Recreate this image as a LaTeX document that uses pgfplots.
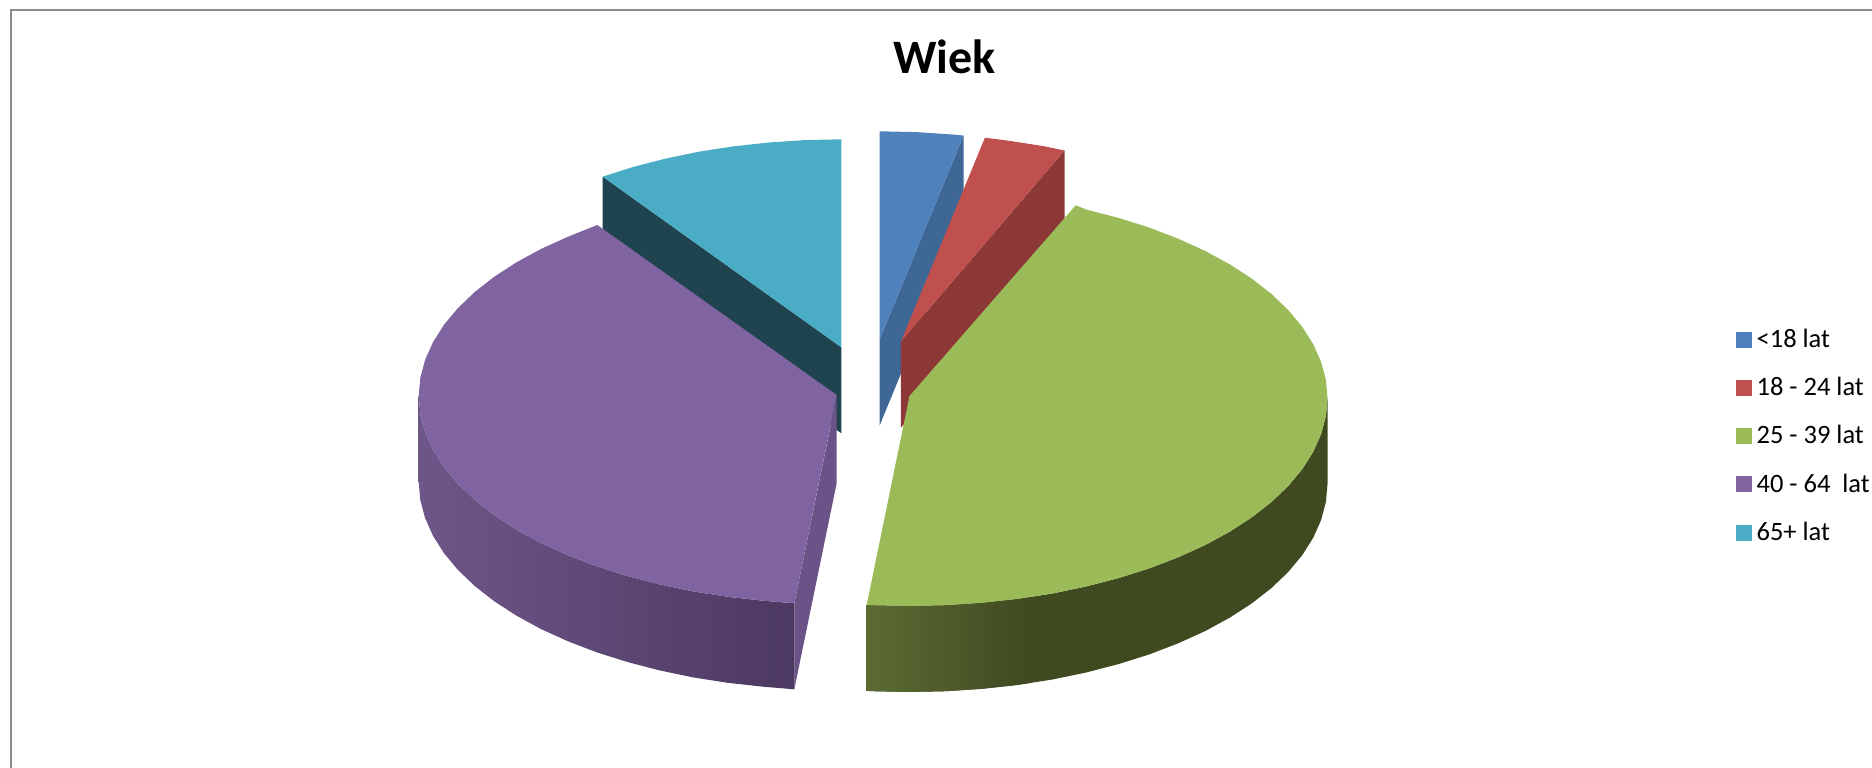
\documentclass[border=0pt]{standalone}
\usepackage{fontspec}
\setmainfont{Carlito}
\usepackage{pgfplots}
\pgfplotsset{compat=1.18}

\definecolor{cblue}{HTML}{4F81BD}
\definecolor{cblueside}{HTML}{3E6796}
\definecolor{cred}{HTML}{C0504D}
\definecolor{credside}{HTML}{8C3836}
\definecolor{cgreen}{HTML}{9BBB59}
\definecolor{cgreenleft}{HTML}{5C6B33}
\definecolor{cgreenside}{HTML}{3F4A21}
\definecolor{cpurple}{HTML}{8064A2}
\definecolor{cpurpleinner}{HTML}{6B5287}
\definecolor{cpurpleleft}{HTML}{6F5689}
\definecolor{cpurplemid}{HTML}{624B78}
\definecolor{cpurpleright}{HTML}{4C3960}
\definecolor{cteal}{HTML}{4BACC6}
\definecolor{ctealside}{HTML}{1F444F}
\definecolor{frame}{HTML}{8A8A8A}

\begin{document}
\begin{tikzpicture}
\begin{axis}[
  width=1872pt,height=768pt,scale only axis,
  xmin=0,xmax=1872,ymin=0,ymax=768,y dir=reverse,
  axis lines=none,ticks=none,
  title={\fontsize{48}{52}\selectfont\bfseries Wiek},
  title style={at={(axis cs:944.5,80)},anchor=base,inner sep=0pt},
  legend style={at={(axis cs:1736,329)},anchor=north west,draw=none,fill=none,overlay,
    inner sep=0pt,font=\fontsize{26.5}{29}\selectfont,row sep=24.3pt,
    nodes={text height=18pt,text depth=6pt,inner sep=0pt,inner xsep=5pt}},
  legend cell align=left,
  legend image code/.code={\fill[#1] (0pt,-5.5pt) rectangle (15pt,9.5pt);},
]
\path (axis cs:0,0) rectangle (axis cs:1872,768);

% chart frame, top and left only
\addplot[forget plot,draw=frame,line width=2pt] coordinates {(10.5,768) (10.5,10.5) (1872,10.5)};

% 65+ lat
\addplot[forget plot,draw=none,fill=ctealside] coordinates {(602.7,176.7) (841.3,347.3) (841.3,433.3) (602.7,262.7)};
\addplot[forget plot,draw=none,fill=cteal] coordinates {
(841.3,347.3) (841.3,139.3) (804.9,140.1) (768.7,142.5) (733.1,146.4)
(698.3,151.8) (664.7,158.8) (632.3,167.2) (602.7,176.7)};

% <18 lat
\addplot[forget plot,draw=none,fill=cblueside] coordinates {(963.5,135.5) (879.7,339.3) (879.7,425.3) (963.5,221.5)};
\addplot[forget plot,draw=none,fill=cblue] coordinates {
(879.7,339.3) (879.7,131.3) (916.1,132.1) (952.3,134.5) (963.5,135.5)};

% 18 - 24 lat
\addplot[forget plot,draw=none,fill=credside] coordinates {(1064.5,150.5) (900.9,341.7) (900.9,427.7) (1064.5,236.5)};
\addplot[forget plot,draw=none,fill=cred] coordinates {
(900.9,341.7) (984.9,137.7) (1009.1,140.8) (1043.9,146.2) (1064.5,150.5)};

% 40 - 64 lat
\addplot[forget plot,draw=none,fill=cpurpleinner] coordinates {(836.7,396) (836.7,483) (794.3,689.3) (794.3,603.3)};
\addplot[forget plot,draw=none,left color=cpurpleleft,middle color=cpurplemid,right color=cpurpleright] coordinates {
(418.7,396) (420.3,414.1) (425.1,432.1) (433,449.8) (443.9,467.1) (457.9,483.9)
(474.7,500) (494.3,515.3) (516.5,529.7) (541.1,543.1) (568,555.3) (596.9,566.4)
(627.7,576.1) (660.1,584.5) (693.7,591.5) (728.5,596.9) (764.1,600.8) (794.3,603.3)
(794.3,689.3) (764.1,686.8) (728.5,682.9) (693.7,677.5) (660.1,670.5) (627.7,662.1)
(596.9,652.4) (568,641.3) (541.1,629.1) (516.5,615.7) (494.3,601.3) (474.7,586)
(457.9,569.9) (443.9,553.1) (433,535.8) (425.1,518.1) (420.3,500.1) (418.7,482)};
\addplot[forget plot,draw=none,fill=cpurple] coordinates {
(836.7,395) (597.3,225) (568,236.7) (541.1,248.9) (516.5,262.3) (494.3,276.7)
(474.7,292) (457.9,308.1) (443.9,324.9) (433,342.2) (425.1,359.9) (420.3,377.9)
(418.7,396) (420.3,414.1) (425.1,432.1) (433,449.8) (443.9,467.1) (457.9,483.9)
(474.7,500) (494.3,515.3) (516.5,529.7) (541.1,543.1) (568,555.3) (596.9,566.4)
(627.7,576.1) (660.1,584.5) (693.7,591.5) (728.5,596.9) (764.1,600.8) (794.3,603.3)};

% 25 - 39 lat
\addplot[forget plot,draw=none,fill=cgreenside] coordinates {
(1327.5,398) (1325.9,416.1) (1321.1,434.1) (1313.2,451.8) (1302.3,469.1) (1288.3,485.9)
(1271.5,502) (1251.9,517.3) (1229.7,531.7) (1205.1,545.1) (1178.2,557.3) (1149.3,568.4)
(1118.5,578.1) (1086.1,586.5) (1052.5,593.5) (1017.7,598.9) (982.1,602.8) (945.9,605.2)
(909.5,606) (873.1,605.2) (866.7,604.9)
(866.7,690.9) (873.1,691.2) (909.5,692) (945.9,691.2) (982.1,688.8) (1017.7,684.9)
(1052.5,679.5) (1086.1,672.5) (1118.5,664.1) (1149.3,654.4) (1178.2,643.3) (1205.1,631.1)
(1229.7,617.7) (1251.9,603.3) (1271.5,588) (1288.3,571.9) (1302.3,555.1) (1313.2,537.8)
(1321.1,520.1) (1325.9,502.1) (1327.5,484)};
\addplot[forget plot,draw=none,left color=cgreenleft,right color=cgreenside] coordinates {
(866.7,604.9) (873.1,605.2) (909.5,606) (945.9,605.2) (982.1,602.8) (1017.7,598.9)
(1030,597) (1030,683) (1017.7,684.9) (982.1,688.8) (945.9,691.2) (909.5,692) (873.1,691.2) (866.7,690.9)};
\addplot[forget plot,draw=none,fill=cgreen] coordinates {
(909.5,396) (1075.7,205.3) (1086.1,209.5) (1118.5,217.9) (1149.3,227.6) (1178.2,238.7)
(1205.1,250.9) (1229.7,264.3) (1251.9,278.7) (1271.5,294) (1288.3,310.1) (1302.3,326.9)
(1313.2,344.2) (1321.1,361.9) (1325.9,379.9) (1327.5,398) (1325.9,416.1) (1321.1,434.1)
(1313.2,451.8) (1302.3,469.1) (1288.3,485.9) (1271.5,502) (1251.9,517.3) (1229.7,531.7)
(1205.1,545.1) (1178.2,557.3) (1149.3,568.4) (1118.5,578.1) (1086.1,586.5) (1052.5,593.5)
(1017.7,598.9) (982.1,602.8) (945.9,605.2) (909.5,606) (873.1,605.2) (866.7,604.9)};

\addlegendimage{cblue}\addlegendentry{<18 lat}
\addlegendimage{cred}\addlegendentry{18 - 24 lat}
\addlegendimage{cgreen}\addlegendentry{25 - 39 lat}
\addlegendimage{cpurple}\addlegendentry{40 - 64\ \ lat}
\addlegendimage{cteal}\addlegendentry{65+ lat}
\end{axis}
\end{tikzpicture}
\end{document}
